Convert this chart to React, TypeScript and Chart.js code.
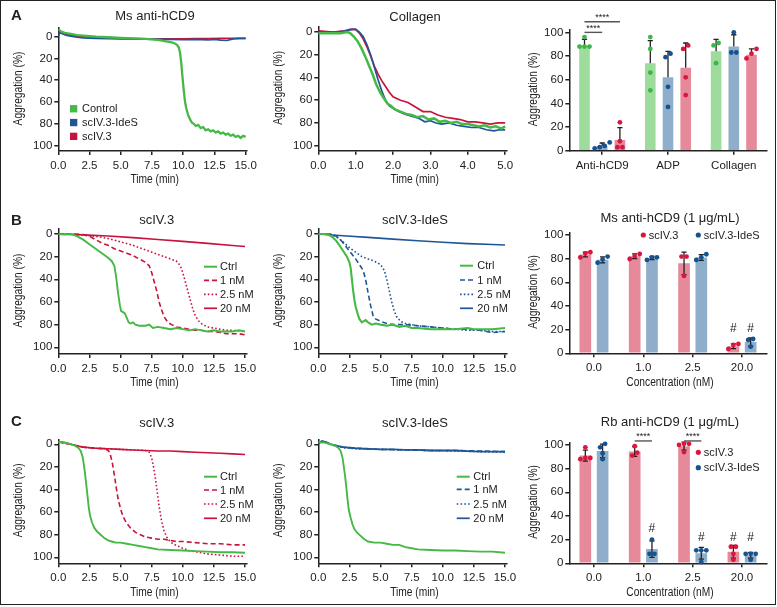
import React, { useEffect, useRef } from "react";
import { Chart, registerables } from "chart.js";
Chart.register(...registerables);

const FONT = '"Liberation Sans", Arial, Helvetica, sans-serif';
const INK = "#222222";

const GREEN_LINE = "#45b945";
const RED_LINE = "#c8143c";
const BLUE_LINE = "#1f5796";
const GREEN_BAR = "#9ddc9d";
const BLUE_BAR = "#8eaecb";
const RED_BAR = "#e6899a";
const GREEN_DOT = "#3cb648";
const BLUE_DOT = "#16528f";
const RED_DOT = "#d9163f";

// ---------- tick labels ----------
const timeTicks15 = [0, 2.5, 5, 7.5, 10, 12.5, 15];
const timeTicks5 = [0, 1, 2, 3, 4, 5];
const aggTicks = [0, 20, 40, 60, 80, 100];

// ---------- A: Ms anti-hCD9 traces [time, aggregation] ----------
const aMsControl = [[0,-7],[0.2,-5],[0.5,-3.5],[1,-2.5],[1.5,-1.5],[2,-1],[3,0],[4,0.5],[5,1],[6,1.5],[7,2],[7.5,2.5],[8,3],[8.5,4],[9,5],[9.3,6],[9.5,7.5],[9.65,10],[9.75,15],[9.85,25],[9.95,38],[10.05,50],[10.15,60],[10.25,66],[10.4,72],[10.55,76],[10.7,79],[10.85,80],[11,82],[11.2,81],[11.4,84],[11.6,83],[11.8,86],[12,85],[12.2,87],[12.4,86],[12.6,88],[12.8,87],[13,89],[13.2,88],[13.4,90],[13.6,89],[13.8,91],[14,90],[14.2,92],[14.4,91],[14.6,93],[14.8,91],[15,92]];
const aMsIdeS = [[0,0],[0.1,-4],[0.3,-3],[0.6,-1.5],[1,-0.5],[1.5,0.5],[2,1],[3,1.5],[4,1.8],[5,2],[6,2],[7,2.3],[8,2.5],[9,2.5],[10,2.8],[11,2.5],[12,3],[12.5,2.5],[13,3.2],[13.5,3.5],[14,2],[14.5,1.5],[15,1.5]];
const aMsScIV3 = [[0,-5],[0.3,-3],[0.7,-2],[1,-1.5],[1.5,-0.5],[2,0],[3,0.5],[4,1],[5,1.5],[6,1.8],[7,2],[8,2],[9,2],[10,2],[11,1.8],[12,1.7],[13,1.5],[14,1.5],[15,1.5]];

// ---------- A: Collagen traces ----------
const aColControl = [[0,1],[0.3,1],[0.6,1],[0.7,0.5],[0.78,0],[0.85,1],[0.95,4],[1.05,8],[1.15,14],[1.25,21],[1.35,29],[1.45,37],[1.55,46],[1.65,53],[1.75,58],[1.85,63],[1.95,65],[2.05,68],[2.2,70],[2.35,72],[2.5,73],[2.65,75],[2.8,74],[2.95,77],[3.1,76],[3.25,79],[3.4,78],[3.55,80],[3.7,79],[3.85,81],[4.0,81],[4.15,82],[4.3,83],[4.45,82],[4.6,84],[4.75,83],[4.9,85],[5,83]];
const aColIdeS = [[0,0],[0.5,0],[0.75,-1],[0.9,-2.5],[1.0,-2.5],[1.1,0],[1.2,4],[1.3,11],[1.4,20],[1.5,31],[1.6,42],[1.7,52],[1.8,60],[1.9,65],[2.0,67],[2.15,70],[2.3,72],[2.5,74],[2.7,76],[2.85,79],[3.0,78],[3.15,80],[3.3,81],[3.5,80],[3.7,82],[3.9,83],[4.1,84],[4.3,84],[4.5,86],[4.7,87],[4.85,86],[5,86]];
const aColScIV3 = [[0,-1],[0.4,0],[0.7,-1],[0.85,-2.3],[1.0,-2],[1.1,1],[1.2,6],[1.3,13],[1.4,21],[1.5,30],[1.6,37],[1.7,43],[1.8,48],[1.9,53],[2.0,57],[2.2,60],[2.4,62],[2.6,66],[2.8,70],[3.0,70],[3.2,73],[3.4,75],[3.6,76],[3.8,77],[4.0,79],[4.2,79],[4.4,80],[4.6,81],[4.8,80],[5,80]];

// ---------- A: bar summary ----------
const aCats = ["Anti-hCD9", "ADP", "Collagen"];
const aCtrlMean = [89, 74, 84];
const aCtrlSd = [5, 19, 10];
const aCtrlDots = [[88, 96, 88, 88], [96, 86, 66, 51], [91, 74, 89]];
const aIdeSMean = [4, 62, 88];
const aIdeSSd = [2.5, 22, 10];
const aIdeSDots = [[7, 2, 3, 4], [79, 82, 54, 37], [100, 83, 83]];
const aScIVMean = [9, 70, 81];
const aScIVSd = [10.5, 21, 5];
const aScIVDots = [[24, 8, 3, 3], [86, 89, 62, 47], [86, 82, 78]];

// ---------- B: Ms anti-hCD9, scIV.3 ----------
const bScCtrl = [[0,0],[0.5,0.5],[1,0],[1.3,1],[1.6,2.5],[2,5],[2.5,9],[3,13],[3.5,17],[4,21],[4.3,24],[4.5,28],[4.65,38],[4.8,52],[4.95,63],[5.05,68],[5.2,69],[5.35,70],[5.5,74],[5.65,78],[5.8,79],[6,78],[6.2,80],[6.5,81],[7,81],[7.3,80],[7.6,83],[8,82],[8.5,83],[9,84],[9.5,83],[10,84],[10.5,85],[11,84],[11.5,85],[12,86],[12.5,85],[13,86],[13.5,86],[14,86],[14.5,85],[15,86]];
const bSc1nM = [[0,0],[1,0],[2,0.5],[2.5,2],[3,5],[3.5,8],[4,10],[4.5,13],[5,15],[5.5,17],[6,19],[6.5,22],[7,25],[7.3,28],[7.5,34],[7.7,42],[7.9,50],[8.1,60],[8.3,67],[8.5,73],[8.8,78],[9.1,80],[9.5,82],[10,83],[10.5,84],[11,85],[11.5,85],[12,86],[12.5,86],[13,87],[13.5,88],[14,88],[14.5,88],[15,89]];
const bSc25nM = [[0,0],[1,0],[2,1],[3,2],[4,4],[5,7],[6,10],[7,14],[8,18],[8.5,20],[9,22],[9.5,24],[9.8,28],[10,34],[10.2,42],[10.4,50],[10.6,58],[10.8,66],[11,72],[11.3,77],[11.6,80],[12,82],[12.5,83],[13,84],[13.5,85],[14,85],[15,86]];
const bSc20nM = [[0,0],[2,0.8],[4,1.8],[6,3.2],[8,4.8],[10,6.5],[12,8.3],[14,10.2],[15,11]];

// ---------- B: Ms anti-hCD9, scIV.3-IdeS ----------
const bIdCtrl = [[0,0],[0.5,0],[0.8,0.5],[1.1,2.5],[1.4,5.5],[1.7,10],[2,15],[2.3,20],[2.5,25],[2.6,30],[2.7,40],[2.8,50],[2.9,58],[3.0,64],[3.15,70],[3.3,75],[3.5,78],[3.8,76],[4,78],[4.3,80],[4.6,79],[5,80],[5.5,81],[6,80],[6.5,82],[7,81],[7.5,83],[8,83],[9,84],[10,84],[11,84],[12,83],[12.5,84],[13,84],[14,84],[15,83]];
const bId1nM = [[0,0],[1,0],[1.3,1],[1.7,4],[2,8],[2.5,15],[3,22],[3.3,27],[3.6,32],[3.8,40],[4.0,52],[4.2,63],[4.4,72],[4.6,75],[5,77],[5.5,79],[6,80],[7,80],[8,81],[9,82],[10,83],[11,84],[12,84],[13,85],[13.5,86],[14,87],[15,86]];
const bId25nM = [[0,0],[1,0.5],[1.5,3],[2,7],[2.5,12],[3,16],[3.5,20],[4,22],[4.5,24],[5,27],[5.3,32],[5.5,40],[5.7,50],[5.9,60],[6.1,68],[6.3,73],[6.6,77],[7,79],[7.5,80],[8,81],[9,82],[10,83],[11,84],[12,85],[13,85],[14,86],[15,86]];
const bId20nM = [[0,0],[2,1.5],[4,3],[6,4.5],[8,6],[10,7.3],[12,8.5],[14,9.3],[15,9.7]];

// ---------- B: bar summary ----------
const concCats = ["0.0", "1.0", "2.5", "20.0"];
const bScMean = [83.5, 82, 76, 6];
const bScSd = [2, 2, 9.5, 2];
const bScDots = [[81, 85.4, 84.5], [79.7, 83.9, 82.2], [81.7, 65.4, 81.7], [3.7, 7.9, 7]];
const bIdMean = [79, 80.5, 81, 9.5];
const bIdSd = [2.5, 1.3, 2.4, 3.5];
const bIdDots = [[81.7, 76.6, 79.4], [78.9, 81.1, 81.1], [78.9, 83.7, 81.1], [12.1, 5.6, 11.3]];

// ---------- C: Rb anti-hCD9, scIV.3 ----------
const cScCtrl = [[0,-2],[0.3,-2],[0.7,-1],[1,0],[1.3,1],[1.6,3],[1.8,6],[1.95,11],[2.05,18],[2.15,26],[2.25,36],[2.35,46],[2.45,56],[2.55,63],[2.7,69],[2.9,74],[3.1,77],[3.4,80],[3.7,83],[4,85],[4.3,86],[4.6,87],[5,87],[5.5,88],[6,89],[6.5,90],[7,91],[7.5,92],[8,93],[9,93.5],[10,94],[11,94.5],[12,95],[13,95.5],[14,95.5],[15,96]];
const cSc1nM = [[0,-2],[1,0],[2,2.5],[3,3.5],[3.8,4],[4.05,6],[4.2,10],[4.35,17],[4.5,27],[4.65,38],[4.8,48],[5.0,57],[5.2,64],[5.5,70],[5.8,74],[6.2,78],[6.6,80],[7,82],[7.5,83],[8,84],[8.5,84],[9,85],[9.5,86],[10,86],[11,87],[12,88],[13,88],[14,89],[15,89]];
const cSc25nM = [[0,-2],[1,0],[2,2.5],[3,3.5],[4,4],[5,4.5],[6,5],[7,5.5],[7.3,7],[7.5,12],[7.65,20],[7.8,30],[7.95,42],[8.1,55],[8.3,68],[8.5,77],[8.8,84],[9.2,88],[9.6,90],[10,92],[10.5,94],[11,95],[12,97],[13,98],[14,99],[15,99]];
const cSc20nM = [[0,-2],[0.5,-1.5],[1,0],[1.5,1.5],[2,2.5],[3,3.5],[4,4],[5,4.5],[6,5],[7,5.5],[8,6],[9,6],[10,6.5],[11,7],[12,7.5],[13,8],[14,8.5],[15,9]];

// ---------- C: Rb anti-hCD9, scIV.3-IdeS ----------
const cIdCtrl = [[0,-2],[0.5,-1.5],[1,0],[1.3,1],[1.6,3],[1.8,6],[1.95,12],[2.05,20],[2.15,28],[2.25,38],[2.35,49],[2.45,58],[2.6,65],[2.75,71],[2.9,75],[3.1,78],[3.4,81],[3.7,84],[4,86],[4.5,87],[5,87],[5.5,88],[6,89],[6.5,89],[7,91],[7.5,92],[8,93],[9,93.5],[10,94],[11,94],[12,94.5],[13,95],[14,95],[15,96]];
const cId1nM = [[0,-1],[0.5,-2.5],[1,0],[2,2.5],[3,3.5],[5,4.5],[7,5],[9,5.5],[11,5.5],[13,6],[15,6.5]];
const cId25nM = [[0,-1],[0.5,-2],[1,0.5],[2,3],[3,4],[5,4.5],[7,5],[9,5.5],[11,6],[13,6.5],[15,7]];
const cId20nM = [[0,-1],[0.3,-3],[0.6,-2],[1,0],[1.5,1.5],[2,2.5],[3,3.5],[4,4],[5,4.5],[6,4.5],[7,5],[8,5],[9,5.5],[10,5.5],[11,5.5],[12,6],[13,6.5],[14,6.5],[15,6.5]];

// ---------- C: bar summary ----------
const cScMean = [91, 94.5, 99, 9.75];
const cScSd = [4.7, 4.2, 3.4, 5.3];
const cScDots = [[89, 98, 88, 89], [91, 99, 93.5], [101, 100, 101, 94], [14, 14, 8, 3]];
const cIdMean = [95, 12, 8.5, 6.75];
const cIdSd = [5.7, 7, 5, 2.5];
const cIdDots = [[98, 101, 93, 88], [8, 20, 8], [11, 11, 11, 1], [8, 8, 8, 3]];

// ================= helpers =================
function spreadOffsets(values, step) {
  const idx = values.map((_, i) => i).sort((a, b) => values[a] - values[b]);
  const offs = new Array(values.length).fill(0);
  let start = 0;
  for (let k = 1; k <= idx.length; k++) {
    if (k === idx.length || values[idx[k]] - values[idx[k - 1]] > 4.5) {
      const n = k - start;
      for (let j = 0; j < n; j++) offs[idx[start + j]] = (j - (n - 1) / 2) * step;
      start = k;
    }
  }
  return offs;
}

function narrowText(ctx, text, x, y, vertical) {
  ctx.save();
  ctx.translate(x, y);
  if (vertical) ctx.rotate(-Math.PI / 2);
  ctx.scale(0.83, 1);
  ctx.font = `12.3px ${FONT}`;
  ctx.fillStyle = INK;
  ctx.textAlign = "center";
  ctx.textBaseline = "middle";
  ctx.fillText(text, 0, 0);
  ctx.restore();
}

function extrasPlugin(ex) {
  return {
    id: "extras",
    afterDatasetsDraw(chart) {
      if (!ex.bars) return;
      const ctx = chart.ctx;
      const ys = chart.scales.y;
      const { dots, sd, twoSided, dotColors } = ex.bars;
      ctx.save();
      chart.data.datasets.forEach((ds, d) => {
        const meta = chart.getDatasetMeta(d);
        meta.data.forEach((bar, i) => {
          const mean = ds.data[i];
          const top = ys.getPixelForValue(mean + sd[d][i]);
          const bot = ys.getPixelForValue(twoSided ? mean - sd[d][i] : mean);
          ctx.strokeStyle = INK;
          ctx.lineWidth = 1.3;
          ctx.beginPath();
          ctx.moveTo(bar.x, top);
          ctx.lineTo(bar.x, bot);
          ctx.moveTo(bar.x - 2.6, top);
          ctx.lineTo(bar.x + 2.6, top);
          if (twoSided) {
            ctx.moveTo(bar.x - 2.6, bot);
            ctx.lineTo(bar.x + 2.6, bot);
          }
          ctx.stroke();
        });
      });
      chart.data.datasets.forEach((ds, d) => {
        const meta = chart.getDatasetMeta(d);
        meta.data.forEach((bar, i) => {
          const vals = dots[d][i];
          const offs = spreadOffsets(vals, 5);
          ctx.fillStyle = dotColors[d];
          vals.forEach((v, k) => {
            ctx.beginPath();
            ctx.arc(bar.x + offs[k], ys.getPixelForValue(v), 2.4, 0, Math.PI * 2);
            ctx.fill();
          });
        });
      });
      ctx.restore();
    },
    afterDraw(chart) {
      const ctx = chart.ctx;
      const ys = chart.scales.y;
      const ca = chart.chartArea;
      ctx.save();
      ctx.fillStyle = INK;
      if (ex.axisTitles) {
        const at = ex.axisTitles;
        if (at.y) narrowText(ctx, at.y, at.yX, (ca.top + ca.bottom) / 2 - 1, true);
        if (at.x) narrowText(ctx, at.x, (ca.left + ca.right) / 2 + 2, at.xY, false);
      }
      if (ex.letter) {
        ctx.font = `bold 15px ${FONT}`;
        ctx.textAlign = "left";
        ctx.textBaseline = "middle";
        ctx.fillText(ex.letter.text, ex.letter.x, ex.letter.y);
      }
      if (ex.title) {
        ctx.font = `13px ${FONT}`;
        ctx.textAlign = "center";
        ctx.textBaseline = "middle";
        ctx.fillText(ex.title.text, ex.title.x, ex.title.y);
      }
      if (ex.legend) {
        ctx.font = `11px ${FONT}`;
        ctx.textBaseline = "middle";
        ctx.textAlign = "left";
        ex.legend.forEach((it) => {
          if (it.kind === "square") {
            ctx.fillStyle = it.color;
            ctx.fillRect(it.x, it.y - 3.6, 7.3, 7.3);
          } else if (it.kind === "dot") {
            ctx.fillStyle = it.color;
            ctx.beginPath();
            ctx.arc(it.x, it.y, 2.6, 0, Math.PI * 2);
            ctx.fill();
          } else {
            ctx.strokeStyle = it.color;
            ctx.lineWidth = it.width || 1.6;
            ctx.setLineDash(it.dash || []);
            ctx.beginPath();
            ctx.moveTo(it.x, it.y);
            ctx.lineTo(it.x + 13, it.y);
            ctx.stroke();
            ctx.setLineDash([]);
          }
          ctx.fillStyle = INK;
          ctx.fillText(it.label, it.tx, it.y + 0.5);
        });
      }
      if (ex.brackets) {
        ex.brackets.forEach((br) => {
          const x1 = chart.getDatasetMeta(br.a).data[br.cat].x;
          const x2 = chart.getDatasetMeta(br.b).data[br.cat].x;
          const yy = ys.getPixelForValue(br.value);
          ctx.strokeStyle = "#555";
          ctx.lineWidth = 1.4;
          ctx.beginPath();
          ctx.moveTo(x1, yy);
          ctx.lineTo(x2, yy);
          ctx.stroke();
          ctx.fillStyle = INK;
          ctx.font = `9px ${FONT}`;
          ctx.textAlign = "center";
          ctx.textBaseline = "alphabetic";
          ctx.fillText("****", (x1 + x2) / 2, yy - 1.5);
        });
      }
      if (ex.hashes) {
        ctx.fillStyle = INK;
        ctx.font = `12px ${FONT}`;
        ctx.textAlign = "center";
        ctx.textBaseline = "middle";
        ex.hashes.forEach((h) => {
          const x = chart.getDatasetMeta(h.ds).data[h.cat].x;
          ctx.fillText("#", x, ys.getPixelForValue(h.value));
        });
      }
      ctx.restore();
    },
  };
}

const tickFont = { family: FONT, size: 11.5 };

function axisCommon() {
  return {
    grid: { display: true, drawOnChartArea: false, drawTicks: true, tickLength: 4, color: INK, lineWidth: 1.5 },
    border: { display: true, color: INK, width: 1.5 },
  };
}

function yAxis(p) {
  return {
    type: "linear",
    reverse: !!p.reverse,
    min: p.yMin,
    max: p.yMax,
    ...axisCommon(),
    afterBuildTicks: (s) => { s.ticks = aggTicks.map((v) => ({ value: v })); },
    afterFit: (s) => { s.width = p.yAxisW; s.paddingTop = 0; s.paddingBottom = 0; },
    ticks: { font: tickFont, color: INK, padding: 2, callback: (v) => String(v) },
    title: { display: false },
  };
}

function lineCfg(p) {
  return {
    type: "line",
    data: {
      datasets: p.series.map((s) => ({
        label: s.label,
        data: s.points.map(([x, y]) => ({ x, y })),
        borderColor: s.color,
        borderWidth: s.width,
        borderDash: s.dash || [],
        pointRadius: 0,
        fill: false,
        tension: 0,
      })),
    },
    options: {
      animation: false,
      responsive: false,
      devicePixelRatio: 1,
      layout: { padding: { left: 0, top: p.padTop, right: p.padRight, bottom: 0 } },
      plugins: { legend: { display: false }, tooltip: { enabled: false }, title: { display: false } },
      scales: {
        x: {
          type: "linear",
          min: 0,
          max: p.xMax,
          ...axisCommon(),
          afterBuildTicks: (s) => { s.ticks = p.xTicks.map((v) => ({ value: v })); },
          afterFit: (s) => { s.height = p.xAxisH; s.paddingLeft = 0; s.paddingRight = 0; },
          ticks: { font: tickFont, color: INK, padding: 4, maxRotation: 0, autoSkip: false, callback: (v) => Number(v).toFixed(1) },
          title: { display: false },
        },
        y: yAxis({ ...p, reverse: true }),
      },
    },
    plugins: [extrasPlugin({ ...p.extras, axisTitles: { y: "Aggregation (%)", yX: p.yTitleX, x: "Time (min)", xY: p.xTitleY } })],
  };
}

function barCfg(p) {
  return {
    type: "bar",
    data: {
      labels: p.cats,
      datasets: p.series.map((s) => ({
        label: s.label,
        data: s.means,
        backgroundColor: s.color,
        borderWidth: 0,
        barPercentage: p.bp,
        categoryPercentage: p.cp,
      })),
    },
    options: {
      animation: false,
      responsive: false,
      devicePixelRatio: 1,
      layout: { padding: { left: 0, top: p.padTop, right: p.padRight, bottom: 0 } },
      plugins: { legend: { display: false }, tooltip: { enabled: false }, title: { display: false } },
      scales: {
        x: {
          type: "category",
          offset: true,
          ...axisCommon(),
          grid: { display: true, offset: false, drawOnChartArea: false, drawTicks: true, tickLength: 4, color: INK, lineWidth: 1.5 },
          afterFit: (s) => { s.height = p.xAxisH; s.paddingLeft = 0; s.paddingRight = 0; },
          ticks: { font: tickFont, color: INK, padding: 4, maxRotation: 0, autoSkip: false },
          title: { display: false },
        },
        y: yAxis({ ...p, yMin: 0, reverse: false }),
      },
    },
    plugins: [extrasPlugin({ ...p.extras, axisTitles: { y: "Aggregation (%)", yX: p.yTitleX, x: p.xTitle, xY: p.xTitleY } })],
  };
}

function lineLegend(colors, dashes, x, tx, ys) {
  const labels = ["Ctrl", "1 nM", "2.5 nM", "20 nM"];
  return labels.map((label, i) => ({ label, color: colors[i], kind: "line", dash: dashes[i], width: i === 0 ? 2 : 1.7, x, tx, y: ys[i] }));
}

const DASH = [5, 3];
const DOT = [1.6, 2.2];

const panels = [
  {
    key: "A1", x: 0, y: 0, w: 260, h: 200,
    make: () => lineCfg({
      series: [
        { label: "Control", points: aMsControl, color: GREEN_LINE, width: 2.3 },
        { label: "scIV.3-IdeS", points: aMsIdeS, color: BLUE_LINE, width: 1.7 },
        { label: "scIV.3", points: aMsScIV3, color: RED_LINE, width: 1.7 },
      ],
      xMax: 15.1, xTicks: timeTicks15, yMin: -8, yMax: 105,
      yAxisW: 58.3, padTop: 28, padRight: 13.1, xAxisH: 49, yTitleX: 18.3, xTitleY: 180,
      extras: {
        letter: { text: "A", x: 11, y: 16 },
        title: { text: "Ms anti-hCD9", x: 155, y: 16 },
        legend: [
          { label: "Control", color: GREEN_LINE, kind: "square", x: 70, tx: 82, y: 108.7 },
          { label: "scIV.3-IdeS", color: BLUE_LINE, kind: "square", x: 70, tx: 82, y: 122.5 },
          { label: "scIV.3", color: RED_LINE, kind: "square", x: 70, tx: 82, y: 136.3 },
        ],
      },
    }),
  },
  {
    key: "A2", x: 260, y: 0, w: 260, h: 200,
    make: () => lineCfg({
      series: [
        { label: "Control", points: aColControl, color: GREEN_LINE, width: 2.5 },
        { label: "scIV.3-IdeS", points: aColIdeS, color: BLUE_LINE, width: 1.7 },
        { label: "scIV.3", points: aColScIV3, color: RED_LINE, width: 1.7 },
      ],
      xMax: 5.05, xTicks: timeTicks5, yMin: -4.4, yMax: 104.4,
      yAxisW: 58.3, padTop: 27, padRight: 13, xAxisH: 49.3, yTitleX: 18.3, xTitleY: 180,
      extras: { title: { text: "Collagen", x: 155, y: 17 } },
    }),
  },
  {
    key: "A3", x: 520, y: 0, w: 257, h: 200,
    make: () => barCfg({
      cats: aCats,
      series: [
        { label: "Control", means: aCtrlMean, color: GREEN_BAR },
        { label: "scIV.3-IdeS", means: aIdeSMean, color: BLUE_BAR },
        { label: "scIV.3", means: aScIVMean, color: RED_BAR },
      ],
      cp: 0.807, bp: 0.6, yMax: 102,
      yAxisW: 49.3, padTop: 30, padRight: 10.3, xAxisH: 49.3, yTitleX: 13.3, xTitleY: 180,
      extras: {
        bars: { dots: [aCtrlDots, aIdeSDots, aScIVDots], sd: [aCtrlSd, aIdeSSd, aScIVSd], twoSided: false, dotColors: [GREEN_DOT, BLUE_DOT, RED_DOT] },
        brackets: [
          { cat: 0, a: 0, b: 1, value: 100 },
          { cat: 0, a: 0, b: 2, value: 109 },
        ],
      },
    }),
  },
  {
    key: "B1", x: 0, y: 200, w: 260, h: 200,
    make: () => lineCfg({
      series: [
        { label: "Ctrl", points: bScCtrl, color: GREEN_LINE, width: 1.9 },
        { label: "1 nM", points: bSc1nM, color: RED_LINE, width: 1.6, dash: DASH },
        { label: "2.5 nM", points: bSc25nM, color: RED_LINE, width: 1.6, dash: DOT },
        { label: "20 nM", points: bSc20nM, color: RED_LINE, width: 1.6 },
      ],
      xMax: 15.12, xTicks: timeTicks15, yMin: -4.4, yMax: 105.9,
      yAxisW: 58.3, padTop: 29, padRight: 13.5, xAxisH: 46, yTitleX: 18.3, xTitleY: 182.7,
      extras: {
        letter: { text: "B", x: 11, y: 20.7 },
        title: { text: "scIV.3", x: 156.7, y: 20.7 },
        legend: lineLegend([GREEN_LINE, RED_LINE, RED_LINE, RED_LINE], [[], DASH, DOT, []], 204, 220, [66.7, 80.3, 94.3, 108.3]),
      },
    }),
  },
  {
    key: "B2", x: 260, y: 200, w: 260, h: 200,
    make: () => lineCfg({
      series: [
        { label: "Ctrl", points: bIdCtrl, color: GREEN_LINE, width: 2.1 },
        { label: "1 nM", points: bId1nM, color: BLUE_LINE, width: 1.6, dash: DASH },
        { label: "2.5 nM", points: bId25nM, color: BLUE_LINE, width: 1.6, dash: DOT },
        { label: "20 nM", points: bId20nM, color: BLUE_LINE, width: 1.6 },
      ],
      xMax: 15.12, xTicks: timeTicks15, yMin: -4.4, yMax: 105.9,
      yAxisW: 58.3, padTop: 29, padRight: 13.5, xAxisH: 46, yTitleX: 18.3, xTitleY: 182.7,
      extras: {
        title: { text: "scIV.3-IdeS", x: 155, y: 20.7 },
        legend: lineLegend([GREEN_LINE, BLUE_LINE, BLUE_LINE, BLUE_LINE], [[], DASH, DOT, []], 200, 217.3, [65.7, 80, 94.3, 108.3]),
      },
    }),
  },
  {
    key: "B3", x: 520, y: 200, w: 257, h: 200,
    make: () => barCfg({
      cats: concCats,
      series: [
        { label: "scIV.3", means: bScMean, color: RED_BAR },
        { label: "scIV.3-IdeS", means: bIdMean, color: BLUE_BAR },
      ],
      cp: 0.7, bp: 0.676, yMax: 102, xTitle: "Concentration (nM)",
      yAxisW: 49.3, padTop: 32.6, padRight: 10.3, xAxisH: 46.7, yTitleX: 13.3, xTitleY: 182.7,
      extras: {
        title: { text: "Ms anti-hCD9 (1 μg/mL)", x: 150, y: 18.3 },
        bars: { dots: [bScDots, bIdDots], sd: [bScSd, bIdSd], twoSided: true, dotColors: [RED_DOT, BLUE_DOT] },
        legend: [
          { label: "scIV.3", color: RED_DOT, kind: "dot", x: 123.3, tx: 128.8, y: 35 },
          { label: "scIV.3-IdeS", color: BLUE_DOT, kind: "dot", x: 178.3, tx: 183.8, y: 35 },
        ],
        hashes: [
          { cat: 3, ds: 0, value: 20.5 },
          { cat: 3, ds: 1, value: 20.5 },
        ],
      },
    }),
  },
  {
    key: "C1", x: 0, y: 400, w: 260, h: 207,
    make: () => lineCfg({
      series: [
        { label: "Ctrl", points: cScCtrl, color: GREEN_LINE, width: 1.9 },
        { label: "1 nM", points: cSc1nM, color: RED_LINE, width: 1.6, dash: DASH },
        { label: "2.5 nM", points: cSc25nM, color: RED_LINE, width: 1.6, dash: DOT },
        { label: "20 nM", points: cSc20nM, color: RED_LINE, width: 1.6 },
      ],
      xMax: 15.12, xTicks: timeTicks15, yMin: -4.4, yMax: 105.3,
      yAxisW: 58.3, padTop: 39.3, padRight: 13.5, xAxisH: 43.7, yTitleX: 18.3, xTitleY: 192.7,
      extras: {
        letter: { text: "C", x: 11, y: 21.7 },
        title: { text: "scIV.3", x: 156.7, y: 23.3 },
        legend: lineLegend([GREEN_LINE, RED_LINE, RED_LINE, RED_LINE], [[], DASH, DOT, []], 204, 220, [76.7, 90, 104, 118.3]),
      },
    }),
  },
  {
    key: "C2", x: 260, y: 400, w: 260, h: 207,
    make: () => lineCfg({
      series: [
        { label: "Ctrl", points: cIdCtrl, color: GREEN_LINE, width: 1.9 },
        { label: "1 nM", points: cId1nM, color: BLUE_LINE, width: 1.6, dash: DASH },
        { label: "2.5 nM", points: cId25nM, color: BLUE_LINE, width: 1.6, dash: DOT },
        { label: "20 nM", points: cId20nM, color: BLUE_LINE, width: 1.8 },
      ],
      xMax: 15.12, xTicks: timeTicks15, yMin: -4.4, yMax: 105.3,
      yAxisW: 58.3, padTop: 39.3, padRight: 13.5, xAxisH: 43.7, yTitleX: 18.3, xTitleY: 192.7,
      extras: {
        title: { text: "scIV.3-IdeS", x: 155, y: 23.3 },
        legend: lineLegend([GREEN_LINE, BLUE_LINE, BLUE_LINE, BLUE_LINE], [[], DASH, DOT, []], 196.7, 213.3, [76.7, 89.3, 104, 118.3]),
      },
    }),
  },
  {
    key: "C3", x: 520, y: 400, w: 257, h: 207,
    make: () => barCfg({
      cats: concCats,
      series: [
        { label: "scIV.3", means: cScMean, color: RED_BAR },
        { label: "scIV.3-IdeS", means: cIdMean, color: BLUE_BAR },
      ],
      cp: 0.7, bp: 0.676, yMax: 102, xTitle: "Concentration (nM)",
      yAxisW: 49.3, padTop: 42.6, padRight: 10.3, xAxisH: 43.7, yTitleX: 13.3, xTitleY: 192.7,
      extras: {
        title: { text: "Rb anti-hCD9 (1 μg/mL)", x: 150, y: 22.7 },
        bars: { dots: [cScDots, cIdDots], sd: [cScSd, cIdSd], twoSided: true, dotColors: [RED_DOT, BLUE_DOT] },
        legend: [
          { label: "scIV.3", color: RED_DOT, kind: "dot", x: 178.3, tx: 183.8, y: 52.3 },
          { label: "scIV.3-IdeS", color: BLUE_DOT, kind: "dot", x: 178.3, tx: 183.8, y: 67.7 },
        ],
        brackets: [
          { cat: 1, a: 0, b: 1, value: 103.4 },
          { cat: 2, a: 0, b: 1, value: 103.4 },
        ],
        hashes: [
          { cat: 1, ds: 1, value: 29 },
          { cat: 2, ds: 1, value: 21.4 },
          { cat: 3, ds: 0, value: 21.4 },
          { cat: 3, ds: 1, value: 21.4 },
        ],
      },
    }),
  },
];

function Panel({ p }) {
  const ref = useRef(null);
  useEffect(() => {
    const chart = new Chart(ref.current, p.make());
    return () => chart.destroy();
  }, []);
  return (
    <canvas
      ref={ref}
      width={p.w}
      height={p.h}
      style={{ position: "absolute", left: p.x, top: p.y, width: p.w, height: p.h }}
    />
  );
}

export default function App() {
  Chart.defaults.font.family = FONT;
  return (
    <div style={{ position: "absolute", left: 0, top: 0, width: 777, height: 607, background: "#fff", overflow: "hidden" }}>
      {panels.map((p) => (
        <Panel key={p.key} p={p} />
      ))}
      <div
        style={{
          position: "absolute", left: 0, top: 0, width: 776, height: 605,
          border: "1px solid #222", boxSizing: "border-box", pointerEvents: "none",
        }}
      />
    </div>
  );
}
